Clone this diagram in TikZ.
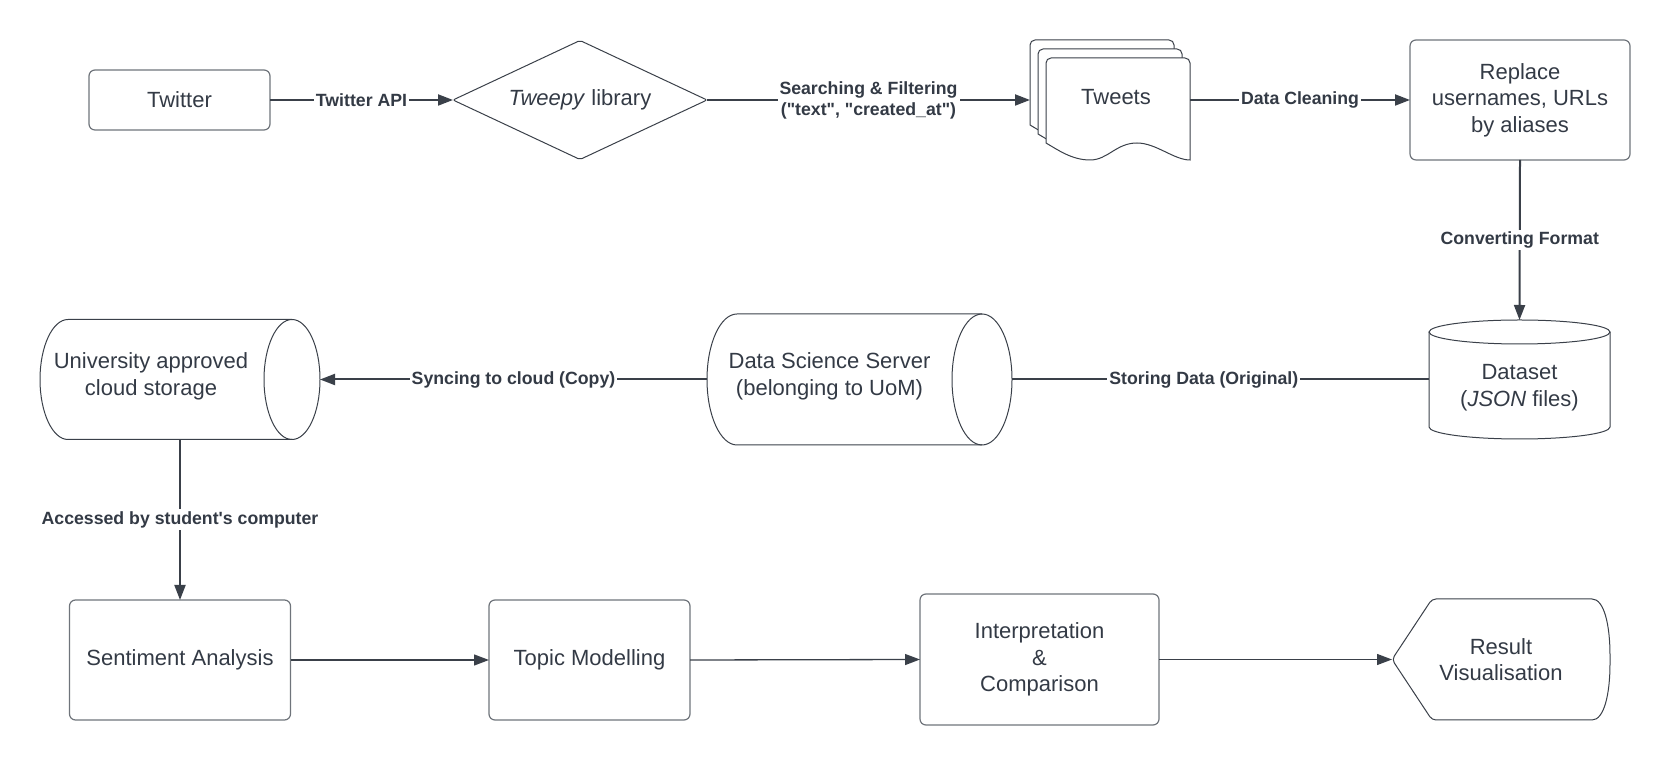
\documentclass[tikz,border=0pt]{standalone}
\usepackage{fontspec}
\setmainfont{Liberation Sans}[Ligatures=TeXOff]
\usetikzlibrary{shapes.geometric, arrows.meta, backgrounds}

\definecolor{ink}{HTML}{333A45}
\definecolor{wire}{HTML}{3A4049}
\definecolor{rim}{HTML}{6F747B}

\begin{document}
\begin{tikzpicture}[
        x=1pt, y=1pt,
        every node/.style={
            text=ink, % text colour
            align=center,
            inner sep=0, outer sep=0,
            font=\fontsize{22}{26.5}\selectfont
        },
        box/.style={draw=rim, line width=1.2pt, rounded corners=6pt}, % process box
        decision/.style={diamond, draw=wire, line width=1pt, aspect=2.1, rounded corners=2pt},
        outline/.style={draw=wire, line width=1pt},
        flow/.style={draw=wire, line width=2pt, -{Triangle[length=15pt,width=11pt]}},
        thinflow/.style={draw=wire, line width=1.3pt, -{Triangle[length=15pt,width=11pt]}},
        tag/.style={fill=white, inner sep=2pt, font=\bfseries\fontsize{17.7}{21}\selectfont}
    ]
    \useasboundingbox (0,0) rectangle (1670,765);

    % first row
    \node[box, minimum width=181, minimum height=60] (twitter) at (179.5,665) {Twitter};
    \node[decision, minimum width=254, minimum height=119] (tweepy) at (580,665) {\textit{Tweepy} library};
    \node[minimum width=160, minimum height=120] (tweets) at (1110,665) {};
    \node (tweetstext) at (1116,668) {Tweets};
    \node[box, minimum width=220, minimum height=120] (replace) at (1520,665) {Replace\\usernames, URLs\\by aliases};

    % second row
    \node[minimum width=181, minimum height=119] (dataset) at (1519.5,385.5) {};
    \node (datasettext) at ([yshift=-8]dataset.center) {Dataset\\(\textit{JSON} files)};
    \node[minimum width=305, minimum height=131] (server) at (859.5,385.5) {};
    \node (servertext) at ([xshift=-30,yshift=3]server.center) {Data Science Server\\(belonging to UoM)};
    \node[minimum width=280, minimum height=120] (uni) at (180,385.5) {};
    \node (unitext) at ([xshift=-29,yshift=3]uni.center) {University approved\\cloud storage};

    % third row
    \node[box, minimum width=221, minimum height=120] (sentiment) at (180,105) {Sentiment Analysis};
    \node[box, minimum width=201, minimum height=120] (topic) at (589.5,105) {Topic Modelling};
    \node[box, minimum width=239, minimum height=131] (interp) at (1039.5,105.5) {Interpretation\\\&\\Comparison};
    \node[minimum width=218, minimum height=121] (result) at (1501,105.5) {Result\\Visualisation};

    % shapes drawn by hand
    \begin{scope}[on background layer]
        % stack of documents
        \begin{scope}[shift={(tweets.north west)}]
            \foreach \dx/\dy in {0/0, 8/-9, 16/-18}
                \draw[outline, fill=white, shift={(\dx,\dy)}]
                    (0,-85) -- (0,-5) arc[start angle=180, end angle=90, radius=5]
                    -- (139,0) arc[start angle=90, end angle=0, radius=5]
                    -- (144,-102) .. controls (128,-102) and (110,-85) .. (91,-85)
                    .. controls (70,-85) and (62,-102) .. (44,-102)
                    .. controls (26,-102) and (12,-92) .. (0,-85) -- cycle;
        \end{scope}
        % database
        \draw[outline] ([yshift=-12]dataset.north west) -- ([yshift=12]dataset.south west)
            arc[start angle=180, end angle=360, x radius=90.5, y radius=12]
            -- ([yshift=-12]dataset.north east);
        \draw[outline] ([yshift=-12]dataset.north) ellipse[x radius=90.5, y radius=12];
        % lying cylinders
        \draw[outline] ([xshift=-30]server.north east) -- ([xshift=30]server.north west)
            arc[start angle=90, end angle=270, x radius=30, y radius=65.5]
            -- ([xshift=-30]server.south east);
        \draw[outline] ([xshift=-30]server.east) ellipse[x radius=30, y radius=65.5];
        \draw[outline] ([xshift=-28]uni.north east) -- ([xshift=28]uni.north west)
            arc[start angle=90, end angle=270, x radius=28, y radius=60]
            -- ([xshift=-28]uni.south east);
        \draw[outline] ([xshift=-28]uni.east) ellipse[x radius=28, y radius=60];
        % display shape
        \draw[outline, rounded corners=4pt, shift={(result.center)}]
            (-109,0) -- (-69,60.5) -- (87,60.5)
            .. controls (103,60.5) and (109,35) .. (109,0)
            .. controls (109,-35) and (103,-60.5) .. (87,-60.5)
            -- (-69,-60.5) -- cycle;
    \end{scope}

    % connectors
    \draw[flow] (twitter.east) -- node[tag] {Twitter API} (tweepy.west);
    \draw[flow] (tweepy.east) -- node[tag] {Searching \& Filtering\\("text", "created\_at")} (tweets.west);
    \draw[flow] (tweets.east) -- node[tag] {Data Cleaning} (replace.west);
    \draw[flow] (replace.south) -- node[tag] {Converting Format} (dataset.north);
    \draw[draw=wire, line width=2pt] (dataset.west) -- node[tag, pos=0.54] {Storing Data (Original)} (server.east);
    \draw[flow] (server.west) -- node[tag] {Syncing to cloud (Copy)} (uni.east);
    \draw[flow] (uni.south) -- node[tag] {Accessed by student's computer} (sentiment.north);
    \draw[thinflow] (sentiment.east) -- (topic.west);
    \draw[thinflow] (topic.east) -- (interp.west);
    \draw[thinflow] (interp.east) -- (result.west);
\end{tikzpicture}
\end{document}
